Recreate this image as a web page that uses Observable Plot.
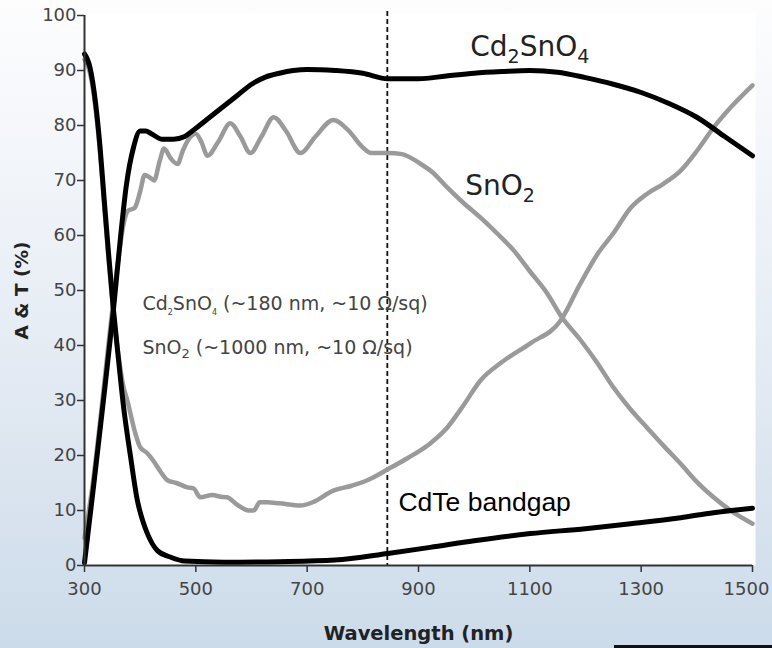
<!DOCTYPE html>
<html>
<head>
<meta charset="utf-8">
<script src="https://cdn.jsdelivr.net/npm/d3@7"></script>
<script src="https://cdn.jsdelivr.net/npm/@observablehq/plot@0.6"></script>
<style>
  html, body { margin: 0; padding: 0; }
  #wrap {
    position: relative; width: 772px; height: 648px; overflow: hidden;
    background: linear-gradient(to bottom, #fdfdfe 0%, #eef2f8 35%, #dde6f0 70%, #ccdbea 100%);
  }
  #wrap svg { position: absolute; left: 0; top: 0; background: transparent; }
  #cut { position: absolute; left: 614px; top: 645px; width: 158px; height: 3px; background: #111; }
</style>
</head>
<body>
<div id="wrap"><div id="cut"></div></div>
<script>
// ---- data ----
const xTicks = [300, 500, 700, 900, 1100, 1300, 1500];
const yTicks = [0, 10, 20, 30, 40, 50, 60, 70, 80, 90, 100];

// Cd2SnO4 transmission
const cdT_wl = [300,317,334,352,365,375,388,400,410,420,440,460,480,500,525,550,575,600,625,650,675,700,750,800,845,900,950,1000,1050,1100,1150,1200,1250,1300,1350,1400,1450,1500];
const cdT_v  = [0.5,15,30,46.5,60,69,76,79,79,78.5,77.5,77.5,78,79.5,81.5,83.5,85.5,87.5,88.8,89.5,90,90.2,90,89.5,88.5,88.5,89,89.5,89.8,90,89.7,88.7,87.5,86,84,81.5,78,74.5];

// Cd2SnO4 absorption
const cdA_wl = [300,310,320,328,335,343,352,360,370,383,395,405,413,431,455,480,550,650,750,845,921,1000,1101,1200,1281,1371,1430,1500];
const cdA_v  = [93,90.5,84,76,67,57,46.5,38.5,29,19.6,11.8,8,5.8,2.7,1.5,0.8,0.6,0.7,1,2.2,3.3,4.5,5.8,6.7,7.6,8.7,9.6,10.4];

// SnO2 transmission
const snT_wl = [300,315,330,345,360,370,378,390,400,408,418,425,435,443,455,467,477,487,500,510,521,540,562,580,598,618,640,662,688,715,747,775,800,815,845,870,904,925,952,980,1011,1040,1071,1100,1131,1155,1191,1220,1250,1280,1311,1340,1371,1400,1430,1465,1500];
const snT_v  = [5,15,28,42,55,62,64.5,65,68,71,70.5,70,73.5,75.8,74,73,75.5,77.5,78.5,77,74.5,77,80.4,78,75,78,81.5,79,75,78,81,79,76,75,75,74.8,73,71.5,68.7,66,63.3,60.5,57.3,53.5,49.5,45.5,41,37,32.4,28.5,25,21.8,18.5,15.2,12.4,9.7,7.6];

// SnO2 absorption
const snA_wl = [300,310,320,328,335,343,352,360,370,377,390,400,412,424,437,449,465,485,496,508,530,545,556,575,595,604,615,628,650,688,710,747,780,808,845,880,921,951,980,1011,1050,1101,1155,1191,1222,1250,1281,1311,1340,1371,1401,1430,1461,1500];
const snA_v  = [92,89.5,83,75,66,56,46,39,32.5,30,24.5,21.5,20.5,19,17,15.5,15,14.2,14,12.4,12.8,12.5,12.4,11,10,10,11.5,11.5,11.3,10.9,11.5,13.6,14.5,15.5,17.5,19.5,22.2,25,29,33.6,37,40.4,44.5,51.3,56.7,60.4,65,67.6,69.4,71.8,75.5,79.6,83.3,87.3];

const bandgapWl = [844];
const bigLabels = ["Cd₂SnO₄", "SnO₂"];
const bigLabelX = [993, 984];
const bigLabelY = [92.7, 67.3];
const notes = ["Cd₂SnO₄ (~180 nm, ~10 Ω/sq)", "SnO₂ (~1000 nm, ~10 Ω/sq)"];
const noteX = [404, 404];
const noteY = [46.4, 38.5];
const bandgapText = ["CdTe bandgap"];
const bandgapTextX = [864];
const bandgapTextY = [10];

const toRows = (wl, v) => wl.map((w, i) => ({x: w, y: v[i]}));
const cdT = toRows(cdT_wl, cdT_v);
const cdA = toRows(cdA_wl, cdA_v);
const snT = toRows(snT_wl, snT_v);
const snA = toRows(snA_wl, snA_v);

const gray = "#9a9a9a";
const lastX = xTicks[xTicks.length - 1];

const chart = Plot.plot({
  width: 772,
  height: 648,
  marginLeft: 84,
  marginRight: 20,
  marginTop: 15,
  marginBottom: 83,
  style: {fontFamily: "'DejaVu Sans', Verdana, sans-serif", fontSize: "18px", background: "transparent", overflow: "visible"},
  x: {domain: [300, 1500]},
  y: {domain: [0, 100]},
  marks: [
    Plot.frame({fill: "white", stroke: null, insetRight: -3, insetTop: -2}),
    // all x ticks (last label drawn separately, nudged left as in the reference)
    Plot.axisX({ticks: xTicks, tickFormat: d => d === lastX ? "" : String(d), tickSize: 7, tickPadding: 10, label: null, stroke: "#333", fill: "#444", strokeWidth: 1.5}),
    Plot.axisX({ticks: [lastX], tickFormat: d => String(d), tickSize: 0, tickPadding: 17, dx: -6, label: null, fill: "#444"}),
    Plot.axisY({ticks: yTicks, tickFormat: d => String(d), tickSize: 7, tickPadding: 1, label: null, stroke: "#333", fill: "#444", strokeWidth: 1.5}),
    Plot.ruleX(bandgapWl, {stroke: "#111", strokeWidth: 1.8, strokeDasharray: "5,3", insetTop: -4}),
    Plot.line(snA, {x: "x", y: "y", stroke: gray, strokeWidth: 4.5, curve: "monotone-x"}),
    Plot.line(snT, {x: "x", y: "y", stroke: gray, strokeWidth: 4.5, curve: "monotone-x"}),
    Plot.line(cdA, {x: "x", y: "y", stroke: "#000", strokeWidth: 5, curve: "monotone-x"}),
    Plot.line(cdT, {x: "x", y: "y", stroke: "#000", strokeWidth: 5, curve: "monotone-x"}),
    Plot.ruleY([0], {stroke: "#333", strokeWidth: 2}),
    Plot.ruleX([300], {stroke: "#333", strokeWidth: 2}),
    Plot.text(bigLabels, {x: (d, i) => bigLabelX[i], y: (d, i) => bigLabelY[i], text: d => d, textAnchor: "start", lineAnchor: "bottom", fontSize: 28, fill: "#222"}),
    Plot.text(notes, {x: (d, i) => noteX[i], y: (d, i) => noteY[i], text: d => d, textAnchor: "start", lineAnchor: "bottom", fontSize: 19, fill: "#444"}),
    Plot.text(bandgapText, {x: (d, i) => bandgapTextX[i], y: (d, i) => bandgapTextY[i], text: d => d, textAnchor: "start", lineAnchor: "bottom", fontSize: 26.5, fill: "#000", fontFamily: "'Liberation Sans', Arial, sans-serif"}),
    Plot.text(["A & T (%)"], {frameAnchor: "left", dx: -62, rotate: -90, textAnchor: "middle", fontWeight: "bold", fontSize: 18.5, fill: "#222", lineAnchor: "middle"}),
    Plot.text(["Wavelength (nm)"], {frameAnchor: "bottom", dy: 68, textAnchor: "middle", fontWeight: "bold", fontSize: 19.5, fill: "#222", lineAnchor: "middle"})
  ]
});

// turn Unicode subscript digits into real lowered tspans
const NS = "http://www.w3.org/2000/svg";
function subify(el, size, shift) {
  const s = el.textContent;
  el.textContent = "";
  let down = false;
  for (const part of s.split(/([\u2080-\u2089])/)) {
    if (!part) continue;
    const t = document.createElementNS(NS, "tspan");
    if (/[\u2080-\u2089]/.test(part)) {
      t.textContent = String(part.charCodeAt(0) - 0x2080);
      t.setAttribute("font-size", size);
      t.setAttribute("dy", down ? 0 : shift);
      down = true;
    } else {
      t.textContent = part;
      if (down) { t.setAttribute("dy", -shift); down = false; }
    }
    el.appendChild(t);
  }
}
chart.querySelectorAll("text").forEach(el => {
  const s = el.textContent;
  if (!/[\u2080-\u2089]/.test(s)) return;
  if (s === bigLabels[0] || s === bigLabels[1]) subify(el, 19, 7);
  else if (s === notes[0]) subify(el, 8, 5);
  else if (s === notes[1]) subify(el, 13, 4);
});
document.getElementById("wrap").appendChild(chart);
</script>
</body>
</html>
